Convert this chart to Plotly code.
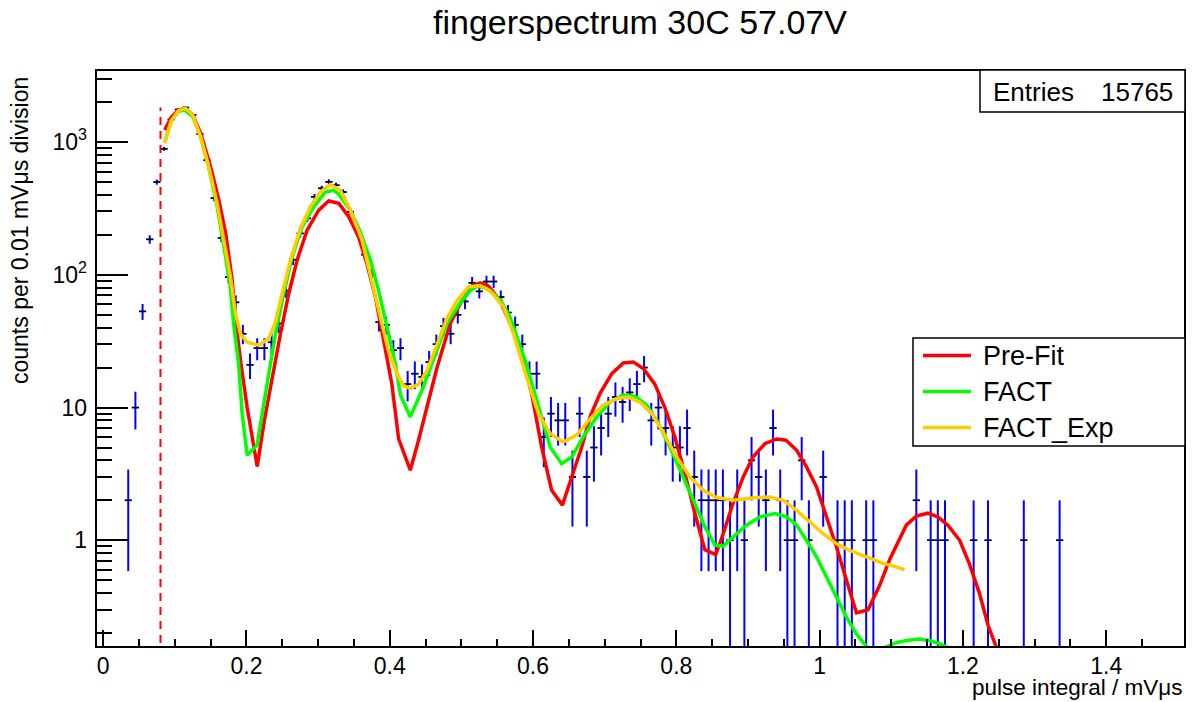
import numpy as np
import plotly.graph_objects as go

# ---------------- data ----------------
hist_x = [0.035, 0.045, 0.055, 0.065, 0.075, 0.085, 0.095, 0.105, 0.115, 0.125,
          0.135, 0.145, 0.155, 0.165, 0.175, 0.185, 0.195, 0.205, 0.215, 0.225,
          0.235, 0.245, 0.255, 0.265, 0.275, 0.285, 0.295, 0.305, 0.315, 0.325,
          0.335, 0.345, 0.355, 0.365, 0.375, 0.385, 0.395, 0.405, 0.415, 0.425,
          0.435, 0.445, 0.455, 0.465, 0.475, 0.485, 0.495, 0.505, 0.515, 0.525,
          0.535, 0.545, 0.555, 0.565, 0.575, 0.585, 0.595, 0.605, 0.615, 0.625,
          0.635, 0.645, 0.655, 0.665, 0.675, 0.685, 0.695, 0.705, 0.715, 0.725,
          0.735, 0.745, 0.755, 0.765, 0.775, 0.785, 0.795, 0.805, 0.815, 0.825,
          0.835, 0.845, 0.855, 0.865, 0.875, 0.885, 0.895, 0.905, 0.915, 0.925,
          0.935, 0.945, 0.955, 0.965, 0.975, 0.985, 1.005, 1.025, 1.035, 1.045,
          1.065, 1.075, 1.135, 1.155, 1.165, 1.175, 1.215, 1.235, 1.285, 1.335]
hist_counts = [2, 10, 53, 185, 500, 890, 1480, 1760, 1820, 1600,
               1150, 730, 378, 190, 96, 62, 36, 21, 28, 28,
               31, 43, 76, 130, 205, 266, 387, 448, 502, 473,
               420, 298, 217, 142, 102, 44, 42, 27, 28, 15,
               18, 17, 22, 30, 41, 36, 50, 63, 87, 75,
               89, 89, 68, 52, 42, 30, 18, 18, 6, 9,
               8, 8, 3, 9, 3, 5, 7, 9, 12, 11,
               13, 15, 20, 8, 10, 7, 5, 5, 7, 3,
               2, 2, 2, 2, 1, 2, 1, 4, 3, 2,
               7, 2, 1, 1, 4, 1, 3, 1, 1, 1,
               1, 1, 2, 1, 1, 1, 1, 1, 1, 1]

threshold_x = 0.08

prefit_x = [0.086, 0.095, 0.105, 0.115, 0.125, 0.136, 0.150, 0.1615, 0.171, 0.180,
            0.185, 0.192, 0.201, 0.215, 0.225, 0.234, 0.240, 0.2475, 0.259, 0.2707,
            0.2846, 0.3009, 0.3148, 0.324, 0.329, 0.343, 0.3566, 0.368, 0.380, 0.3915,
            0.403, 0.4124, 0.4287, 0.4403, 0.452, 0.466, 0.4845, 0.5008, 0.5147, 0.5263,
            0.538, 0.554, 0.568, 0.582, 0.598, 0.612, 0.626, 0.641, 0.654, 0.668,
            0.6796, 0.6936, 0.710, 0.726, 0.740, 0.754, 0.770, 0.784, 0.798, 0.812,
            0.826, 0.8397, 0.855, 0.8655, 0.879, 0.8934, 0.907, 0.9236, 0.940, 0.953,
            0.968, 0.9817, 0.9957, 1.0096, 1.0236, 1.0375, 1.0514, 1.0676, 1.084, 1.098,
            1.112, 1.121, 1.135, 1.151, 1.165, 1.179, 1.1955, 1.209, 1.223, 1.235, 1.25]
prefit_y = [1230, 1540, 1740, 1790, 1600, 1170, 650, 365, 205, 92,
            45, 22, 10, 3.6, 8, 15, 22, 36, 72, 129,
            217, 307, 360, 350, 345, 273, 193, 122, 68, 32,
            15, 5.8, 3.37, 5.7, 10.1, 20, 43, 64, 82, 87,
            82, 64, 43, 28.6, 12.8, 5.05, 2.38, 1.84, 3.0, 5.05,
            8.5, 12.8, 18, 21.7, 22, 19.7, 15, 10, 6.0, 3.18,
            1.59, 0.85, 0.78, 1.12, 1.89, 3.0, 4.24, 5.34, 5.8, 5.67,
            4.76, 3.57, 2.52, 1.5, 0.89, 0.5, 0.284, 0.30, 0.46, 0.72,
            1.05, 1.3, 1.52, 1.6, 1.5, 1.3, 1.0, 0.667, 0.4, 0.23, 0.14]

fact_x = [0.086, 0.095, 0.105, 0.113, 0.125, 0.136, 0.1475, 0.159, 0.168, 0.177,
          0.1823, 0.189, 0.194, 0.1987, 0.201, 0.2147, 0.229, 0.2405, 0.252, 0.2637,
          0.2777, 0.2939, 0.310, 0.3218, 0.3287, 0.345, 0.359, 0.373, 0.3845, 0.396,
          0.4078, 0.4148, 0.4287, 0.445, 0.461, 0.4798, 0.498, 0.5125, 0.522, 0.533,
          0.545, 0.555, 0.568, 0.589, 0.605, 0.624, 0.640, 0.654, 0.670, 0.689,
          0.7075, 0.726, 0.7424, 0.7587, 0.775, 0.791, 0.8075, 0.8236, 0.840, 0.854,
          0.8655, 0.879, 0.898, 0.9166, 0.9375, 0.954, 0.968, 0.9817, 0.9957, 1.0096,
          1.0236, 1.0375, 1.0514, 1.0654, 1.078, 1.090, 1.105, 1.121, 1.139, 1.155,
          1.168, 1.180, 1.195, 1.210]
fact_y = [1000, 1450, 1700, 1750, 1560, 1100, 640, 330, 170, 85,
          42, 21.5, 9.0, 5.05, 4.37, 5.2, 16, 36, 72, 136,
          230, 325, 420, 433, 405, 307, 210, 129, 76, 40.5,
          21.4, 12.5, 8.5, 13.5, 22.7, 43, 61, 76, 82, 80,
          72, 64, 48, 22.7, 11.4, 5.05, 3.78, 4.24, 6.0, 8.5,
          11.0, 12.4, 12.2, 10.4, 7.6, 5.05, 3.18, 2.0, 1.26, 0.92,
          0.9, 1.06, 1.3, 1.5, 1.59, 1.5, 1.3, 1.0, 0.75, 0.53,
          0.374, 0.264, 0.197, 0.158, 0.145, 0.155, 0.168, 0.176, 0.18, 0.175,
          0.166, 0.155, 0.14, 0.12]

factexp_x = [0.0857, 0.095, 0.105, 0.115, 0.125, 0.136, 0.1475, 0.159, 0.1684, 0.1778,
             0.1847, 0.1917, 0.201, 0.217, 0.231, 0.2405, 0.2498, 0.2614, 0.2753, 0.2893,
             0.3032, 0.317, 0.331, 0.345, 0.3613, 0.375, 0.387, 0.398, 0.410, 0.419,
             0.4287, 0.4403, 0.452, 0.466, 0.480, 0.494, 0.510, 0.526, 0.540, 0.559,
             0.5727, 0.591, 0.6075, 0.624, 0.642, 0.661, 0.6796, 0.698, 0.717, 0.733,
             0.749, 0.7657, 0.7818, 0.8005, 0.819, 0.8376, 0.856, 0.879, 0.900, 0.912,
             0.9306, 0.949, 0.968, 0.9863, 1.005, 1.0236, 1.042, 1.0654, 1.0885, 1.107,
             1.1186]
factexp_y = [980, 1440, 1720, 1800, 1600, 1090, 650, 346, 183, 96,
             51, 36, 31, 29.5, 33, 44, 72, 129, 224, 325,
             420, 478, 433, 307, 183, 91, 48, 27, 18, 14.7,
             13.9, 15, 19, 30, 47, 64, 81, 83, 76, 57,
             36, 17, 9, 6.36, 5.5, 6.2, 8.2, 10.4, 11.7, 12,
             11, 9, 6.5, 4.24, 3.0, 2.38, 2.1, 2.0, 2.06, 2.1,
             2.12, 2.0, 1.68, 1.37, 1.12, 0.94, 0.84, 0.75, 0.67, 0.63,
             0.60]

x_tick_vals = [0, 0.2, 0.4, 0.6, 0.8, 1.0, 1.2, 1.4]
x_tick_text = ["0", "0.2", "0.4", "0.6", "0.8", "1", "1.2", "1.4"]
y_tick_vals = [1, 10, 100, 1000]
y_tick_text = ["1", "10", "10<sup>2</sup>", "10<sup>3</sup>"]

title_text = "fingerspectrum 30C 57.07V"
x_title = "pulse integral / mVμs"
y_title = "counts per 0.01 mVμs division"
entries = 15765
legend_names = ["Pre-Fit", "FACT", "FACT_Exp"]
legend_colors = ["#ff0000", "#00ff00", "#ffcc00"]

# ---------------- geometry ----------------
W, H = 1200, 702
ML, MR, MT, MB = 96, 15, 70, 55
PW = W - ML - MR
PH = H - MT - MB


def px(x):
    return (x - ML) / PW


def py(y):
    return (H - MB - y) / PH


FONT = "Liberation Sans, Arial, Helvetica, sans-serif"

counts = np.array(hist_counts, dtype=float)
err = np.sqrt(counts)
err_minus = np.where(counts - err <= 0, counts - 0.05, err)

fig = go.Figure()

fig.add_trace(go.Scatter(
    x=hist_x, y=hist_counts, mode="markers",
    marker=dict(symbol="line-ew", size=5, color="black",
                line=dict(color="black", width=1.5)),
    error_y=dict(type="data", symmetric=False, array=err, arrayminus=err_minus,
                 color="#0000ff", thickness=2, width=0),
    error_x=dict(type="constant", value=0.005, color="#0000ff",
                 thickness=1.5, width=0),
    showlegend=False, hoverinfo="skip"))

fig.add_trace(go.Scatter(
    x=[threshold_x, threshold_x], y=[0.05, max(hist_counts)], mode="lines",
    line=dict(color="#ff0000", width=2, dash="8px,6px"),
    showlegend=False, hoverinfo="skip"))

for xs, ys, name, col in [(prefit_x, prefit_y, legend_names[0], legend_colors[0]),
                          (fact_x, fact_y, legend_names[1], legend_colors[1]),
                          (factexp_x, factexp_y, legend_names[2], legend_colors[2])]:
    fig.add_trace(go.Scatter(x=xs, y=ys, mode="lines", name=name,
                             line=dict(color=col, width=3.5),
                             showlegend=False))

minor_x = [v / 100 for v in range(5, 150, 5) if v % 20 != 0]
minor_y = []
for dec in [0.1, 1, 10, 100, 1000]:
    for k in range(2, 10):
        minor_y.append(k * dec)

fig.update_layout(
    width=W, height=H,
    margin=dict(l=ML, r=MR, t=MT, b=MB, pad=0),
    paper_bgcolor="white", plot_bgcolor="white",
    font=dict(family=FONT, color="black"),
    showlegend=False,
    xaxis=dict(range=[-0.01, 1.51], tickmode="array", tickvals=x_tick_vals,
               ticktext=x_tick_text, ticks="inside", ticklen=17, tickwidth=1.5,
               tickcolor="black", showgrid=False, zeroline=False,
               showline=False, tickfont=dict(size=23, family=FONT),
               ticklabelstandoff=3,
               minor=dict(tickvals=minor_x, ticks="inside", ticklen=8,
                          tickwidth=1.5, tickcolor="black", showgrid=False)),
    yaxis=dict(type="log", range=[-0.804, 3.543], tickmode="array",
               tickvals=y_tick_vals, ticktext=y_tick_text, ticks="inside",
               ticklen=32, tickwidth=1.5, tickcolor="black", showgrid=False,
               zeroline=False, showline=False,
               tickfont=dict(size=23, family=FONT), ticklabelstandoff=8,
               minor=dict(tickvals=minor_y, ticks="inside", ticklen=16,
                          tickwidth=1.5, tickcolor="black", showgrid=False)),
)

shapes = [dict(type="rect", xref="paper", yref="paper", x0=0, y0=0, x1=1, y1=1,
               line=dict(color="black", width=2), fillcolor="rgba(0,0,0,0)",
               layer="above")]
annotations = []

# title
annotations.append(dict(text=title_text, xref="paper", yref="paper",
                        x=px(640), y=py(22), xanchor="center", yanchor="middle",
                        showarrow=False, font=dict(size=34, family=FONT)))
# axis titles
annotations.append(dict(text=x_title, xref="paper", yref="paper",
                        x=px(1185), y=py(687.5), xanchor="right", yanchor="middle",
                        showarrow=False, font=dict(size=22.5, family=FONT)))
annotations.append(dict(text=y_title, xref="paper", yref="paper",
                        x=px(20), y=py(231), xanchor="center", yanchor="middle",
                        textangle=-90, showarrow=False,
                        font=dict(size=23, family=FONT)))

# stats box
shapes.append(dict(type="rect", xref="paper", yref="paper",
                   x0=px(980), x1=px(1185), y0=py(112), y1=py(70),
                   line=dict(color="black", width=1.5), fillcolor="white",
                   layer="above"))
annotations.append(dict(text="Entries", xref="paper", yref="paper",
                        x=px(991), y=py(92), xanchor="left", yanchor="middle",
                        showarrow=False, font=dict(size=26, family=FONT)))
annotations.append(dict(text=str(entries), xref="paper", yref="paper",
                        x=px(1175), y=py(92), xanchor="right", yanchor="middle",
                        showarrow=False, font=dict(size=26, family=FONT)))

# legend box
shapes.append(dict(type="rect", xref="paper", yref="paper",
                   x0=px(913), x1=px(1185), y0=py(446), y1=py(338),
                   line=dict(color="black", width=1.5), fillcolor="white",
                   layer="above"))
for i, (name, col) in enumerate(zip(legend_names, legend_colors)):
    yy = 355.5 + i * 36
    shapes.append(dict(type="line", xref="paper", yref="paper",
                       x0=px(923), x1=px(971), y0=py(yy), y1=py(yy),
                       line=dict(color=col, width=3.5), layer="above"))
    annotations.append(dict(text=name, xref="paper", yref="paper",
                            x=px(981), y=py(yy), xanchor="left", yanchor="middle",
                            showarrow=False, font=dict(size=27, family=FONT)))

fig.update_layout(shapes=shapes, annotations=annotations)

fig.write_html("out.html")
